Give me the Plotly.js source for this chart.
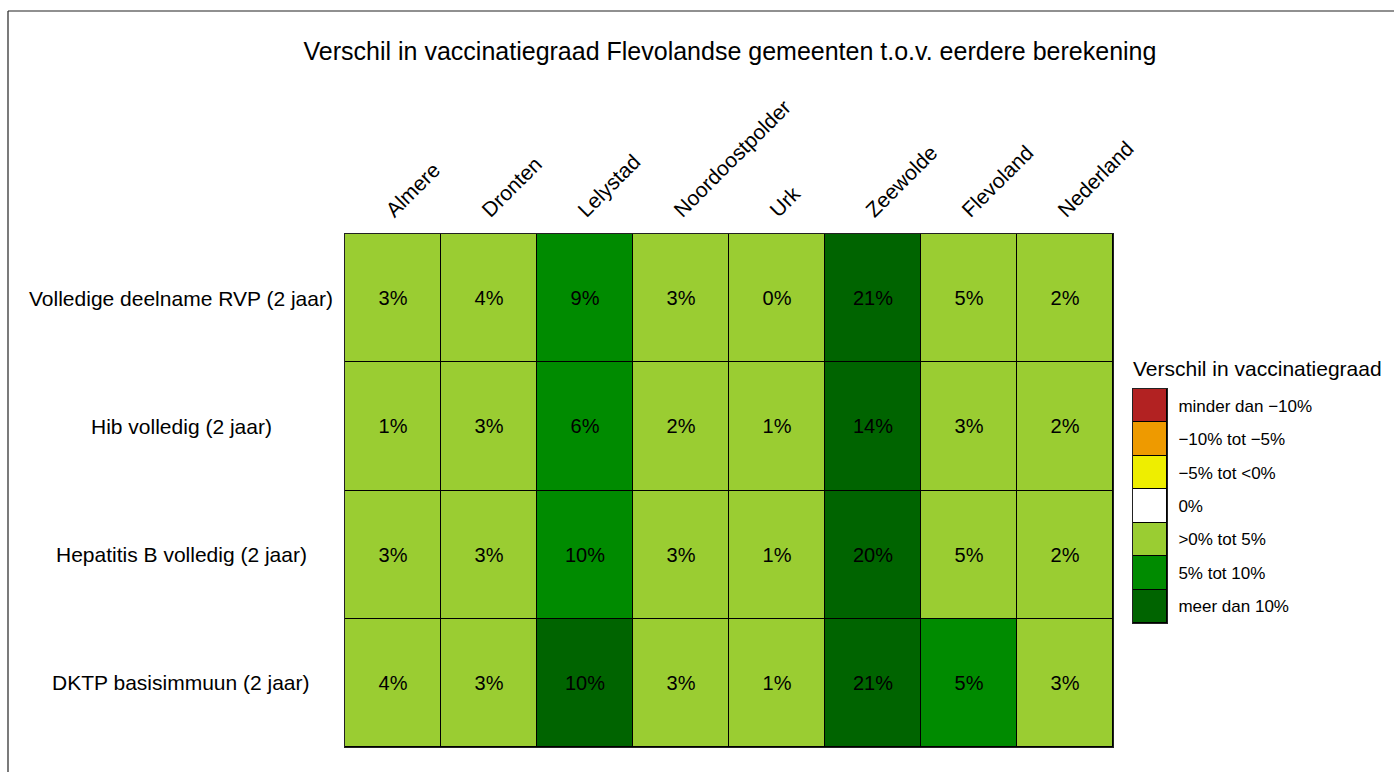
<!DOCTYPE html>
<html>
<head>
<meta charset="utf-8">
<script src="https://cdn.plot.ly/plotly-3.0.1.min.js"></script>
<style>
html,body{margin:0;padding:0;background:#fff;}
#chart{width:1394px;height:772px;}
</style>
</head>
<body>
<div id="chart"></div>
<script>
// ---- data ----
const gemeenten = ["Almere", "Dronten", "Lelystad", "Noordoostpolder", "Urk", "Zeewolde", "Flevoland", "Nederland"];
const indicatoren = ["Volledige deelname RVP (2 jaar)", "Hib volledig (2 jaar)", "Hepatitis B volledig (2 jaar)", "DKTP basisimmuun (2 jaar)"];
const volledigRVP = [3.1, 4.2, 9.2, 3.0, 0.4, 21.0, 4.7, 2.1];
const hibVolledig = [1.2, 2.9, 6.1, 2.3, 1.1, 14.1, 3.2, 2.0];
const hepBVolledig = [3.0, 3.2, 9.7, 2.8, 1.2, 20.2, 4.8, 2.2];
const dktpBasis = [4.0, 3.1, 10.3, 2.9, 1.3, 20.8, 5.2, 2.6];
const klassen = ["minder dan \u221210%", "\u221210% tot \u22125%", "\u22125% tot <0%", "0%", ">0% tot 5%", "5% tot 10%", "meer dan 10%"];
const klasseKleuren = ["#B22222", "#EE9A00", "#EEEE00", "#FFFFFF", "#9ACD32", "#008B00", "#006400"];

// ---- helpers ----
function klasse(v) {
  if (v < -10) return 0;
  if (v < -5) return 1;
  if (v < 0) return 2;
  if (v === 0) return 3;
  if (v <= 5) return 4;
  if (v <= 10) return 5;
  return 6;
}
const rijen = [volledigRVP, hibVolledig, hepBVolledig, dktpBasis];
const z = rijen.map(r => r.map(klasse));
const txt = rijen.map(r => r.map(v => Math.round(v) + "%"));

const n = klasseKleuren.length;
const colorscale = [];
klasseKleuren.forEach((c, i) => {
  colorscale.push([i / n, c]);
  colorscale.push([(i + 1) / n, c]);
});

const W = 1394, H = 772;
const px = v => v / W, py = v => 1 - v / H;
const FONT = "Liberation Sans, Arial, sans-serif";

const main = {
  type: "heatmap",
  x: gemeenten,
  y: indicatoren,
  z: z,
  text: txt,
  texttemplate: "%{text}",
  textfont: {size: 20, color: "#000", family: FONT},
  colorscale: colorscale,
  zmin: -0.5, zmax: 6.5,
  showscale: false,
  xgap: 1, ygap: 1,
  hoverinfo: "skip",
  xaxis: "x", yaxis: "y"
};

const legendHeat = {
  type: "heatmap",
  x: ["k"],
  y: klassen,
  z: klassen.map((k, i) => [i]),
  colorscale: colorscale,
  zmin: -0.5, zmax: 6.5,
  showscale: false,
  xgap: 1, ygap: 1,
  hoverinfo: "skip",
  xaxis: "x2", yaxis: "y2"
};

const annotations = indicatoren.map(lbl => ({
  text: lbl, xref: "paper", x: px(181), yref: "y", y: lbl,
  xanchor: "center", yanchor: "middle", showarrow: false,
  font: {size: 21, color: "#000", family: FONT}
}));
annotations.push({
  text: "Verschil in vaccinatiegraad", xref: "paper", yref: "paper",
  x: px(1131), y: py(369), xanchor: "left", yanchor: "middle",
  showarrow: false, font: {size: 21, color: "#000", family: FONT}
});

const layout = {
  width: W, height: H,
  margin: {l: 0, r: 0, t: 0, b: 0, pad: 0},
  paper_bgcolor: "#fff",
  plot_bgcolor: "#000",
  font: {family: FONT, color: "#000"},
  title: {
    text: "Verschil in vaccinatiegraad Flevolandse gemeenten t.o.v. eerdere berekening",
    font: {size: 25, color: "#000", family: FONT},
    x: px(730), xanchor: "center", y: py(51), yanchor: "middle", xref: "paper", yref: "paper"
  },
  xaxis: {
    domain: [px(345), px(1113)],
    side: "top", tickangle: -45, ticks: "", showgrid: false, zeroline: false,
    showline: true, mirror: true, linecolor: "#222", linewidth: 1,
    tickfont: {size: 21, family: FONT}, ticklabelstandoff: 3, ticklabelshift: -6,
    fixedrange: true
  },
  yaxis: {
    domain: [1 - 747 / H, 1 - 234 / H],
    autorange: "reversed", showticklabels: false, ticks: "",
    showgrid: false, zeroline: false,
    showline: true, mirror: true, linecolor: "#222", linewidth: 1,
    fixedrange: true
  },
  xaxis2: {
    domain: [px(1133), px(1167)], anchor: "y2",
    showticklabels: false, ticks: "", showgrid: false, zeroline: false,
    showline: true, mirror: true, linecolor: "#222", linewidth: 1,
    fixedrange: true
  },
  yaxis2: {
    domain: [1 - 623 / H, 1 - 389 / H], anchor: "x2", side: "right",
    autorange: "reversed", ticks: "", showgrid: false, zeroline: false,
    showline: true, mirror: true, linecolor: "#222", linewidth: 1,
    tickfont: {size: 17, family: FONT}, ticklabelstandoff: 7,
    fixedrange: true
  },
  annotations: annotations,
  shapes: [
    {type: "line", xref: "paper", yref: "paper", x0: px(8), x1: px(8), y0: py(11), y1: -0.1, line: {color: "#222", width: 1.2}},
    {type: "line", xref: "paper", yref: "paper", x0: px(8), x1: 1.1, y0: py(11), y1: py(11), line: {color: "#222", width: 1.2}}
  ],
  showlegend: false
};

Plotly.newPlot("chart", [main, legendHeat], layout, {staticPlot: true, displayModeBar: false});
</script>
</body>
</html>
